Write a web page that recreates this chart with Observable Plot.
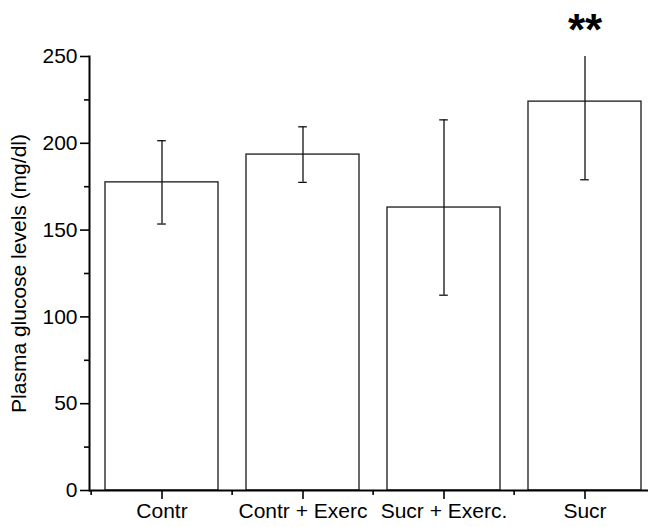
<!DOCTYPE html>
<html>
<head>
<meta charset="utf-8">
<script src="https://cdn.jsdelivr.net/npm/d3@7"></script>
<script src="https://cdn.jsdelivr.net/npm/@observablehq/plot@0.6"></script>
<style>
  html, body { margin: 0; padding: 0; background: #fff; overflow: hidden; }
</style>
</head>
<body>
<div id="chart"></div>
<script>
// Data
const categories = ["Contr", "Contr + Exerc", "Sucr + Exerc.", "Sucr"];
const means = [177.5, 193.5, 163, 224];
const sds = [24, 16, 50.5, 45];
const stars = ["", "", "", "**"];
const yTicks = [0, 50, 100, 150, 200, 250];
const yMinorTicks = [25, 75, 125, 175, 225];
const yLabel = "Plasma glucose levels (mg/dl)";

const rows = categories.map((c, i) => ({
  cat: c, mean: means[i], lo: means[i] - sds[i], hi: means[i] + sds[i], star: stars[i]
}));

// Layout
const W = 648, H = 527, ML = 89, MR = -8, MT = 56, MB = 37;
const PI = 0.2, PO = 0.1;
const step = (W - ML - MR) / (categories.length - PI + 2 * PO);
const bandwidth = step * (1 - PI);
const capInset = (bandwidth - 9) / 2;
const font = "'Liberation Sans', Arial, sans-serif";

const chart = Plot.plot({
  width: W, height: H,
  marginLeft: ML, marginRight: MR, marginTop: MT, marginBottom: MB,
  style: { fontFamily: font, background: "#fff", color: "#000", maxWidth: "none" },
  x: { domain: categories, paddingInner: PI, paddingOuter: PO },
  y: { domain: [0, 250] },
  marks: [
    Plot.barY(rows, { x: "cat", y: "mean", fill: "white", stroke: "#2a2a2a", strokeWidth: 1.4 }),
    Plot.ruleX(rows, { x: "cat", y1: "lo", y2: "hi", stroke: "#111", strokeWidth: 1.3, clip: true }),
    Plot.tickY(rows, { x: "cat", y: "lo", insetLeft: capInset, insetRight: capInset, stroke: "#111", strokeWidth: 1.3, clip: true }),
    Plot.tickY(rows, { x: "cat", y: "hi", insetLeft: capInset, insetRight: capInset, stroke: "#111", strokeWidth: 1.3, clip: true }),
    Plot.axisY(yTicks, {
      tickSize: 9, tickPadding: 3, fontSize: 21, strokeWidth: 1.6,
      label: yLabel, labelAnchor: "center", labelArrow: "none", labelOffset: 78
    }),
    Plot.axisY(yMinorTicks, { tickSize: 5, tickFormat: () => "", label: null, strokeWidth: 1.6 }),
    Plot.axisX({ tickSize: 9, tickPadding: 4, fontSize: 21, label: null, strokeWidth: 1.6 }),
    Plot.axisX({ tickSize: 5, tickFormat: () => "", label: null, strokeWidth: 1.6, dx: -step / 2 }),
    Plot.ruleY([0], { stroke: "#000", strokeWidth: 2 }),
    Plot.frame({ anchor: "left", stroke: "#000", strokeWidth: 2 }),
    Plot.text(rows, {
      x: "cat", frameAnchor: "top", text: "star", dy: -12, lineAnchor: "bottom",
      fontSize: 44, fontWeight: "bold", fill: "#000"
    })
  ]
});
document.getElementById("chart").appendChild(chart);
</script>
</body>
</html>
